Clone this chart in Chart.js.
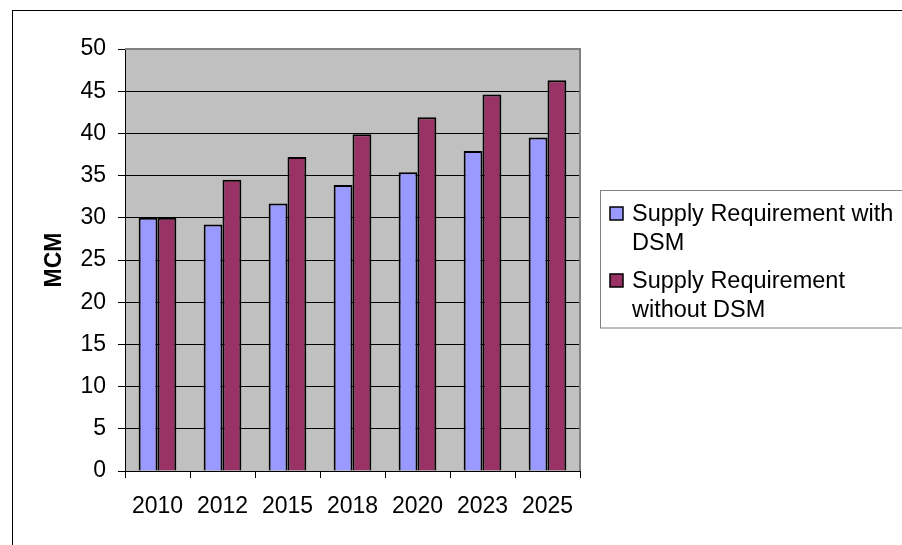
<!DOCTYPE html>
<html>
<head>
<meta charset="utf-8">
<script src="https://cdn.jsdelivr.net/npm/chart.js@4/dist/chart.umd.min.js"></script>
<style>
  html, body { margin: 0; padding: 0; background: #fff; }
  #wrap { position: relative; width: 902px; height: 545px; }
  canvas { display: block; }
</style>
</head>
<body>
<div id="wrap"><canvas id="c" width="902" height="545"></canvas></div>
<script>
const categories = ['2010', '2012', '2015', '2018', '2020', '2023', '2025'];
const seriesLabels = ['Supply Requirement with DSM', 'Supply Requirement without DSM'];
const withDSM = [30.0, 29.2, 31.7, 33.9, 35.4, 37.9, 39.5];
const withoutDSM = [30.0, 34.5, 37.2, 39.9, 41.9, 44.6, 46.3];
const yMin = 0, yMax = 50, yStep = 5;
const yTitle = 'MCM';

const FONT = '"Liberation Sans", Arial, sans-serif';

const framePlugin = {
  id: 'frame',
  beforeDraw(chart) {
    const ctx = chart.ctx, a = chart.chartArea;
    ctx.save();
    ctx.fillStyle = '#fff';
    ctx.fillRect(0, 0, chart.width, chart.height);
    ctx.fillStyle = '#C0C0C0';
    ctx.fillRect(a.left, a.top, a.right - a.left, a.bottom - a.top);
    ctx.strokeStyle = '#000';
    ctx.lineWidth = 1;
    ctx.strokeRect(12.5, 10.5, 1000, 1000);
    ctx.restore();
  },
  afterDatasetsDraw(chart) {
    const ctx = chart.ctx, a = chart.chartArea;
    ctx.save();
    ctx.strokeStyle = '#808080';
    ctx.lineWidth = 2;
    ctx.beginPath();
    ctx.moveTo(a.left, a.top);
    ctx.lineTo(a.right, a.top);
    ctx.lineTo(a.right, a.bottom);
    ctx.stroke();
    ctx.restore();
  },
  afterDraw(chart) {
    const ctx = chart.ctx;
    ctx.save();
    ctx.strokeStyle = '#808080';
    ctx.lineWidth = 1;
    ctx.strokeRect(600.5, 190.5, 400, 137.5);
    ctx.font = '23.5px ' + FONT;
    ctx.fillStyle = '#000';
    ctx.textBaseline = 'alphabetic';
    const maxW = 268;
    const entryBase = [221, 288];
    chart.data.datasets.forEach((ds, i) => {
      const words = ds.label.split(' ');
      const lines = [];
      let cur = '';
      words.forEach(w => {
        const t = cur ? cur + ' ' + w : w;
        if (ctx.measureText(t).width > maxW && cur) { lines.push(cur); cur = w; }
        else cur = t;
      });
      if (cur) lines.push(cur);
      const b = entryBase[i];
      ctx.fillStyle = ds.backgroundColor;
      ctx.fillRect(610, b - 14, 13, 13);
      ctx.strokeStyle = '#000';
      ctx.lineWidth = 1.5;
      ctx.strokeRect(610, b - 14, 13, 13);
      ctx.fillStyle = '#000';
      lines.forEach((ln, j) => ctx.fillText(ln, 632, b + j * 28.5));
    });
    ctx.restore();
  }
};

new Chart(document.getElementById('c'), {
  type: 'bar',
  data: {
    labels: categories,
    datasets: [
      { label: seriesLabels[0], data: withDSM, backgroundColor: '#9999FF', borderColor: '#000', borderWidth: 2 },
      { label: seriesLabels[1], data: withoutDSM, backgroundColor: '#993366', borderColor: '#000', borderWidth: 2 }
    ]
  },
  options: {
    responsive: false,
    devicePixelRatio: 1,
    animation: false,
    layout: { padding: { left: 0, top: 49, right: 322, bottom: 0 } },
    datasets: { bar: { categoryPercentage: 0.58, barPercentage: 1.0 } },
    plugins: { legend: { display: false }, tooltip: { enabled: false } },
    scales: {
      x: {
        offset: true,
        afterFit(s) { s.height = 74; },
        grid: { offset: true, drawOnChartArea: false, drawTicks: true, tickLength: 7, tickColor: '#000', color: '#000' },
        border: { color: '#000', width: 1 },
        ticks: { color: '#000', font: { family: FONT, size: 23 }, padding: 15, maxRotation: 0 }
      },
      y: {
        min: yMin, max: yMax,
        afterFit(s) { s.width = 125; },
        ticks: { stepSize: yStep, color: '#000', font: { family: FONT, size: 23 }, padding: 12 },
        grid: {
          color: ctx => (ctx.tick && ctx.tick.value === yMax) ? '#808080' : '#000',
          tickColor: '#000', tickLength: 7, lineWidth: 1
        },
        border: { color: '#000', width: 1 },
        title: { display: true, text: yTitle, color: '#000', font: { family: FONT, size: 23, weight: 'bold' }, padding: { top: 41, bottom: 0 } }
      }
    }
  },
  plugins: [framePlugin]
});
</script>
</body>
</html>
